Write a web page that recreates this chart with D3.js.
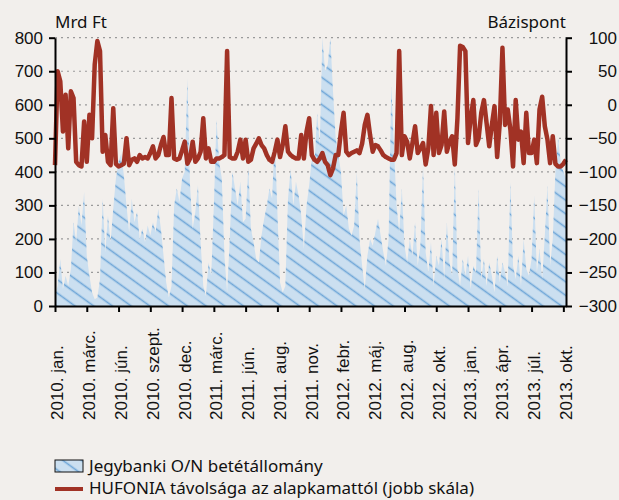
<!DOCTYPE html>
<html>
<head>
<meta charset="utf-8">
<script src="https://cdn.jsdelivr.net/npm/d3@7"></script>
<style>
  body { margin: 0; background: #f2efec; }
  svg { display: block; font-family: "Noto Sans", "Open Sans", sans-serif; }
</style>
</head>
<body>
<div id="chart"></div>
<script>
// tick labels (one every 12 data points)
const monthLabels = ["2010. jan.", "2010. márc.", "2010. jún.", "2010. szept.", "2010. dec.",
    "2011. márc.", "2011. jún.", "2011. aug.", "2011. nov.", "2012. febr.", "2012. máj.",
    "2012. aug.", "2012. okt.", "2013. jan.", "2013. ápr.", "2013. júl.", "2013. okt."];

// Jegybanki O/N betétállomány, Mrd Ft (left scale)
const depositValues = [
    30, 60, 140, 50, 90, 60, 110, 250, 190, 300,
    240, 340, 150, 90, 40, 20, 25, 80, 320, 160,
    270, 190, 290, 380, 430, 455, 390, 300, 220, 320,
    250, 280, 200, 230, 190, 240, 210, 250, 220, 290,
    230, 150, 70, 25, 60, 300, 350, 310, 380, 400,
    680, 360, 230, 280, 360, 190, 60, 30, 130, 90,
    300, 555, 430, 380, 150, 40, 200, 400, 350, 300,
    370, 250, 260, 415, 230, 190, 140, 130, 210, 260,
    300, 350, 320, 500, 280, 70, 40, 60, 320, 410,
    300, 370, 330, 270, 170, 300, 360, 440, 420, 575,
    480, 800, 700, 720, 800, 640, 500, 450, 400, 270,
    300, 230, 210, 240, 400, 200, 120, 50, 150, 200,
    180, 220, 260, 210, 160, 120, 200, 655, 480, 300,
    220, 350, 180, 130, 200, 150, 250, 120, 180, 420,
    160, 100, 190, 60, 150, 120, 200, 80, 250, 130,
    90, 420, 110, 60, 140, 90, 150, 50, 120, 100,
    350, 80, 140, 60, 130, 90, 40, 150, 70, 130,
    100, 60, 370, 120, 80, 150, 60, 200, 110, 90,
    140, 330, 100, 170, 80, 210, 360, 120, 200, 400,
    500, 430, 400, 380
];

// HUFONIA távolsága az alapkamattól, bázispont (right scale)
const spreadValues = [
    -90, 50, 35, -40, 15, -65, 20, 10, -85, -90,
    -92, -25, -85, -15, -50, 60, 95, 80, -70, -45,
    -85, -90, -5, -88, -92, -90, -88, -50, -90, -82,
    -80, -85, -75, -80, -78, -80, -72, -62, -80, -75,
    -60, -48, -75, -75, 10, -80, -82, -80, -68, -55,
    -88, -80, -55, -85, -80, -70, -20, -80, -65, -85,
    -85, -80, -80, -78, -75, 80, -78, -80, -80, -70,
    -52, -80, -52, -85, -82, -65, -58, -50, -60, -65,
    -75, -82, -85, -70, -52, -78, -60, -32, -70, -75,
    -78, -80, -80, -45, -80, -40, -20, -75, -82, -85,
    -80, -72, -85, -90, -105, -95, -75, -75, -40, -12,
    -70, -75, -72, -70, -68, -72, -58, -30, -15, -45,
    -70, -60, -62, -68, -75, -78, -80, -82, -82, -72,
    80, -75, -47, -55, -80, -57, -32, -72, -65, -57,
    -89, -65, -2, -75, -12, -72, -60, -10, -70, -55,
    -47, -89, -20, 88, 86, 80, -57, -20, 7, -60,
    -50, -12, 7, -27, -62, -30, -2, -78, -27, 85,
    -30, -7, -37, -92, 7, -52, -40, -87, -12, -72,
    -72, -52, -87, -7, 12, -32, -52, -87, -47, -88,
    -92, -92, -88, -82
];

const leftTicks = [0, 100, 200, 300, 400, 500, 600, 700, 800];
const rightTicks = [-300, -250, -200, -150, -100, -50, 0, 50, 100];

const width = 619, height = 500;
const plot = { left: 55, right: 566, top: 37.7, bottom: 306 };

const svg = d3.select("#chart").append("svg").attr("width", width).attr("height", height);

const n = depositValues.length;
const x = d3.scaleLinear().domain([0, n - 1]).range([plot.left, plot.right]);
const yLeft = d3.scaleLinear().domain([0, 800]).range([plot.bottom, plot.top]);
const yRight = d3.scaleLinear().domain([-300, 100]).range([plot.bottom, plot.top]);

// hatch pattern for the deposit area
const defs = svg.append("defs");
const pat = defs.append("pattern")
    .attr("id", "hatch")
    .attr("patternUnits", "userSpaceOnUse")
    .attr("width", 11).attr("height", 11)
    .attr("patternTransform", "rotate(36)");
pat.append("rect").attr("width", 11).attr("height", 11).attr("fill", "#cbdff0");
pat.append("line").attr("x1", 0).attr("x2", 11).attr("y1", 5.5).attr("y2", 5.5)
    .attr("stroke", "#6fa6d8").attr("stroke-width", 1.6);

// dotted gridlines
svg.append("g")
    .selectAll("line")
    .data(leftTicks.filter(d => d > 0))
    .join("line")
    .attr("x1", plot.left).attr("x2", plot.right)
    .attr("y1", d => yLeft(d)).attr("y2", d => yLeft(d))
    .attr("stroke", "#9a9a9a").attr("stroke-width", 1.2)
    .attr("stroke-dasharray", "2,4");

// area
const area = d3.area()
    .x((d, i) => x(i))
    .y0(yLeft(0))
    .y1(d => yLeft(d));
svg.append("path")
    .datum(depositValues)
    .attr("d", area)
    .attr("fill", "url(#hatch)");

// line
const line = d3.line()
    .x((d, i) => x(i))
    .y(d => yRight(d));
svg.append("path")
    .datum(spreadValues)
    .attr("d", line)
    .attr("fill", "none")
    .attr("stroke", "#a13225")
    .attr("stroke-width", 4.5)
    .attr("stroke-linejoin", "round");

// axes
const fmt = d => d < 0 ? "\u2212" + Math.abs(d) : String(d);

const gl = svg.append("g").attr("transform", `translate(${plot.left},0)`)
    .call(d3.axisLeft(yLeft).tickValues(leftTicks).tickSize(6).tickPadding(6).tickSizeOuter(0));
const gr = svg.append("g").attr("transform", `translate(${plot.right},0)`)
    .call(d3.axisRight(yRight).tickValues(rightTicks).tickFormat(fmt).tickSize(6).tickPadding(4).tickSizeOuter(0));
const gb = svg.append("g").attr("transform", `translate(0,${plot.bottom})`)
    .call(d3.axisBottom(x).tickValues(d3.range(0, n, 12)).tickFormat((d, i) => monthLabels[i]).tickSize(6).tickSizeOuter(0));

[gl, gr, gb].forEach(g => {
    g.select(".domain").attr("stroke", "#000").attr("stroke-width", 2);
    g.selectAll(".tick line").attr("stroke", "#000").attr("stroke-width", 2);
    g.selectAll("text").attr("fill", "#111").style("font-size", "17px");
});
gr.selectAll("text").attr("text-anchor", "end").attr("x", 51);

gb.selectAll("text")
    .attr("text-anchor", "start")
    .attr("transform", "translate(2,114) rotate(-90)")
    .attr("x", 0).attr("y", 0).attr("dy", "0.35em");

// axis titles
svg.append("text").attr("x", 55).attr("y", 28).text("Mrd Ft")
    .style("font-size", "17px").attr("fill", "#111");
svg.append("text").attr("x", 566).attr("y", 28).attr("text-anchor", "end").text("Bázispont")
    .style("font-size", "17px").attr("fill", "#111");

// legend
const lg = svg.append("g");
lg.append("rect").attr("x", 55).attr("y", 460).attr("width", 28).attr("height", 12)
    .attr("fill", "url(#hatch)").attr("stroke", "#111").attr("stroke-width", 1);
lg.append("text").attr("x", 89).attr("y", 472).text("Jegybanki O/N betétállomány")
    .style("font-size", "17px").attr("fill", "#111");
lg.append("line").attr("x1", 55).attr("x2", 83).attr("y1", 489).attr("y2", 489)
    .attr("stroke", "#a13225").attr("stroke-width", 4);
lg.append("text").attr("x", 89).attr("y", 494).text("HUFONIA távolsága az alapkamattól (jobb skála)")
    .style("font-size", "17px").attr("fill", "#111");
</script>
</body>
</html>
